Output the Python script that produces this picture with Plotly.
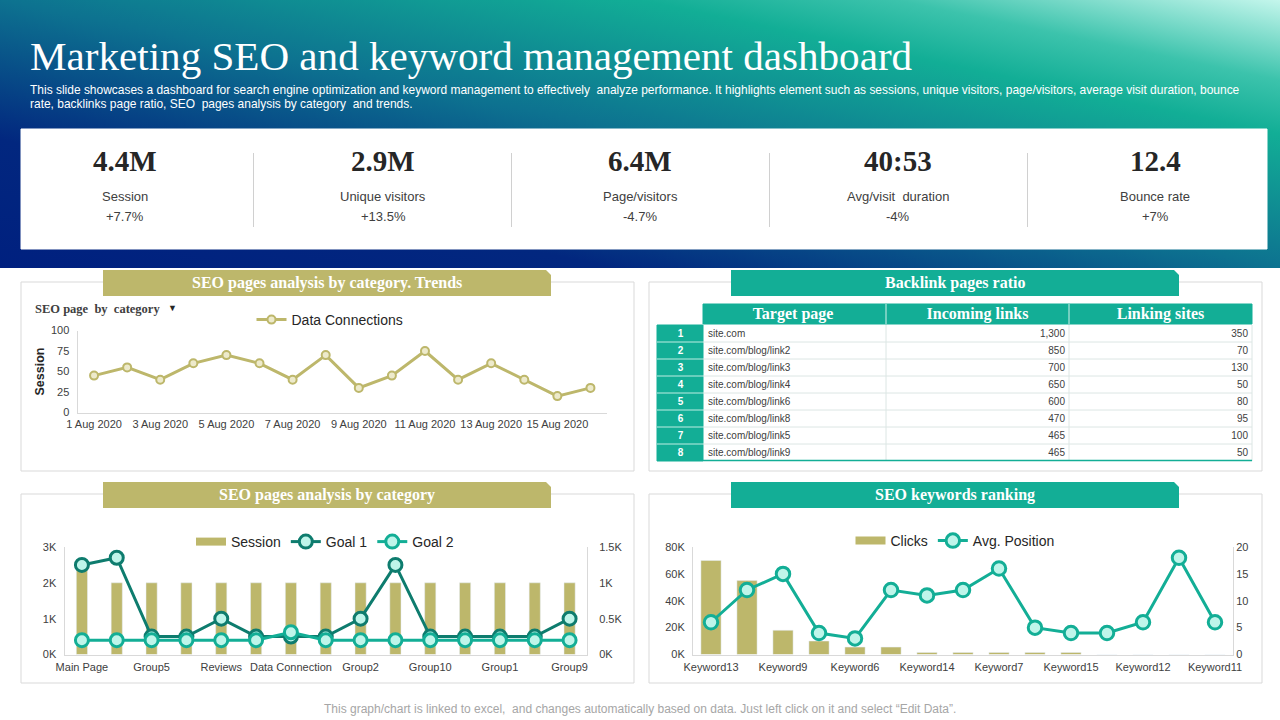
import base64
import plotly.graph_objects as go

# ---------- data ----------
kpi_values = ["4.4M", "2.9M", "6.4M", "40:53", "12.4"]
kpi_names = ["Session", "Unique visitors", "Page/visitors", "Avg/visit  duration", "Bounce rate"]
kpi_deltas = ["+7.7%", "+13.5%", "-4.7%", "-4%", "+7%"]

trend_dates = ["%d Aug 2020" % d for d in range(1, 17)]
trend_values = [45, 55, 40, 60, 70, 60, 40, 70, 30, 45, 75, 40, 60, 40, 20, 30]

page_cats = ["Main Page", "Group3", "Group5", "Group7", "Reviews", "Group8", "Data Connection", "Group4",
             "Group2", "Group6", "Group10", "Group11", "Group1", "Group12", "Group9"]
page_ticks = page_cats[::2]
page_session = [2500, 2000, 2000, 2000, 2000, 2000, 2000, 2000, 2000, 2000, 2000, 2000, 2000, 2000, 2000]
page_goal1 = [1250, 1350, 250, 250, 500, 250, 250, 250, 500, 1250, 250, 250, 250, 250, 500]
page_goal2 = [200, 200, 200, 200, 200, 200, 310, 200, 200, 200, 200, 200, 200, 200, 200]

kw_cats = ["Keyword13", "Keyword2", "Keyword9", "Keyword4", "Keyword6", "Keyword1", "Keyword14", "Keyword3",
           "Keyword7", "Keyword5", "Keyword15", "Keyword8", "Keyword12", "Keyword10", "Keyword11"]
kw_ticks = kw_cats[::2]
kw_clicks = [70000, 55000, 18000, 10000, 5500, 5500, 1500, 1500, 1500, 1500, 1500, 0, 0, 0, 0]
kw_position = [6, 12, 15, 4, 3, 12, 11, 12, 16, 5, 4, 4, 6, 18, 6]

tbl_rank = ["1", "2", "3", "4", "5", "6", "7", "8"]
tbl_pages = ["site.com", "site.com/blog/link2", "site.com/blog/link3", "site.com/blog/link4",
             "site.com/blog/link6", "site.com/blog/link8", "site.com/blog/link5", "site.com/blog/link9"]
tbl_links = ["1,300", "850", "700", "650", "600", "470", "465", "465"]
tbl_sites = ["350", "70", "130", "50", "80", "95", "100", "50"]
tbl_header = ["", "Target page", "Incoming links\u00a0", "Linking sites\u00a0\u00a0"]

# ---------- style ----------
OLIVE = "#BDB76B"
TEAL = "#13AE96"
DARK = "#0E7C6E"
PALE = "#BFF5EA"
PALE_OL = "#EDEACB"
SANS = "Liberation Sans"
SERIF = "Liberation Serif"
CLEAR = "rgba(0,0,0,0)"
W, H = 1280, 720


def fx(p):
    return p / W


def fy(p):
    return 1 - p / H


svg = ('<svg xmlns="http://www.w3.org/2000/svg" width="1280" height="268" preserveAspectRatio="none">'
       '<defs><linearGradient id="g" x1="0" y1="1" x2="1" y2="0">'
       '<stop offset="0" stop-color="#00207F"/><stop offset="0.24" stop-color="#02277F"/>'
       '<stop offset="0.5" stop-color="#0D7290"/><stop offset="0.75" stop-color="#12AE96"/>'
       '<stop offset="0.85" stop-color="#3CC3AC"/><stop offset="1" stop-color="#C4F6EC"/>'
       '</linearGradient></defs><rect width="1280" height="268" fill="url(#g)"/></svg>')
bg = "data:image/svg+xml;base64," + base64.b64encode(svg.encode()).decode()

shapes = []
annots = []


def rect(x0, y0, x1, y1, fill="white", line=None):
    shapes.append(dict(type="rect", xref="paper", yref="paper", x0=fx(x0), x1=fx(x1), y0=fy(y1), y1=fy(y0),
                       fillcolor=fill, line=dict(color=line or fill, width=1), layer="below"))


def hvline(x0, y0, x1, y1, color, width=1):
    shapes.append(dict(type="line", xref="paper", yref="paper", x0=fx(x0), x1=fx(x1), y0=fy(y1), y1=fy(y0),
                       line=dict(color=color, width=width), layer="below"))


def text(x, y, s, size, color, family=SANS, anchor="center"):
    annots.append(dict(xref="paper", yref="paper", x=fx(x), y=fy(y), text=s, showarrow=False, xanchor=anchor,
                       yanchor="middle", align=anchor, font=dict(size=size, color=color, family=family)))


def tab(x0, y0, x1, y1, fill, label):
    path = f"M{fx(x0)},{fy(y1)} L{fx(x0)},{fy(y0)} L{fx(x1 - 5)},{fy(y0)} L{fx(x1)},{fy(y0 + 5)} L{fx(x1)},{fy(y1)} Z"
    shapes.append(dict(type="path", xref="paper", yref="paper", path=path, fillcolor=fill, line=dict(width=0)))
    text((x0 + x1) / 2, (y0 + y1) / 2, "<b>%s</b>" % label, 16, "white", SERIF)


# header
text(28, 56, "Marketing SEO and keyword management dashboard", 41.1, "white", SERIF, "left")
text(28, 89.5, "This slide showcases a dashboard for search engine optimization and keyword management to effectively  "
     "analyze performance. It highlights element such as sessions, unique visitors, page/visitors, average visit "
     "duration, bounce", 11.97, "white", SANS, "left")
text(28, 103.5, "rate, backlinks page ratio, SEO  pages analysis by category  and trends.", 11.97, "white", SANS, "left")

# KPI band
rect(21, 129, 1267, 249)
for xd in (253.5, 511.5, 769.5, 1027.5):
    hvline(xd, 153, xd, 227, "#D0D0D0")
for xc, v, n, d in zip((125, 383, 640, 898, 1155), kpi_values, kpi_names, kpi_deltas):
    text(xc, 161, "<b>%s</b>" % v, 29, "#262626", SERIF)
    text(xc, 196.5, n, 13, "#404040")
    text(xc, 216.5, d, 13, "#404040")

# panels
for (x0, y0, x1, y1) in ((21, 282, 634, 471), (649, 282, 1262, 471), (21, 494, 634, 683), (649, 494, 1262, 683)):
    rect(x0, y0, x1, y1, "white", "#D9D9D9")
tab(103, 270, 551, 296, OLIVE, "SEO pages analysis by category. Trends")
tab(731, 270, 1179, 296, TEAL, "Backlink pages ratio")
tab(103, 482, 551, 508, OLIVE, "SEO pages analysis by category")
tab(731, 482, 1179, 508, TEAL, "SEO keywords ranking")

# table grid, drawn beneath the table's text
ROW_TOP, ROW_H = 325, 17
row_bottom = ROW_TOP + ROW_H * len(tbl_rank)
rect(703, 304, 1252, 324, TEAL)
rect(657, ROW_TOP, 703, row_bottom, TEAL)
for xl in (886, 1069):
    hvline(xl, 304, xl, 324, "#D5F0EA")
    hvline(xl, ROW_TOP, xl, row_bottom, "#DCE6E4")
hvline(1252, ROW_TOP, 1252, row_bottom, "#DCE6E4")
for i in range(1, len(tbl_rank)):
    yl = ROW_TOP + ROW_H * i
    hvline(657, yl, 703, yl, "#BFEDE3")
    hvline(703, yl, 1252, yl, "#DCE6E4")
hvline(703, row_bottom - 0.5, 1252, row_bottom - 0.5, TEAL, 1.5)

text(33, 309, "<b>SEO page  by  category</b>", 12.5, "#404040", SERIF, "left")
text(172, 308, "▼", 9, "#262626", SANS)
text(640, 709, "This graph/chart is linked to excel,  and changes automatically based on data. Just left click on it and "
     "select “Edit Data”.", 12, "#A6A6A6")

fig = go.Figure()

# chart 1: trend
fig.add_trace(go.Scatter(x=trend_dates, y=trend_values, mode="lines+markers", name="Data Connections",
                         line=dict(color=OLIVE, width=3),
                         marker=dict(size=8, color=PALE_OL, line=dict(color=OLIVE, width=2)),
                         xaxis="x", yaxis="y", legend="legend"))

# chart 2: sessions and goals
fig.add_trace(go.Bar(x=page_cats, y=page_session, name="Session", marker_color=OLIVE, width=0.32, xaxis="x2",
                     yaxis="y2", showlegend=False))
fig.add_trace(go.Scatter(x=[page_cats[0]], y=[None], mode="lines", name="Session", line=dict(color=OLIVE, width=8),
                         xaxis="x2", yaxis="y2", legend="legend2"))
fig.add_trace(go.Scatter(x=page_cats, y=page_goal1, mode="lines+markers", name="Goal 1",
                         line=dict(color=DARK, width=3),
                         marker=dict(size=13, color=PALE, line=dict(color=DARK, width=3)),
                         xaxis="x2", yaxis="y3", legend="legend2"))
fig.add_trace(go.Scatter(x=page_cats, y=page_goal2, mode="lines+markers", name="Goal 2",
                         line=dict(color=TEAL, width=3),
                         marker=dict(size=13, color=PALE, line=dict(color=TEAL, width=3)),
                         xaxis="x2", yaxis="y3", legend="legend2"))

# chart 3: keywords
fig.add_trace(go.Bar(x=kw_cats, y=kw_clicks, name="Clicks", marker_color=OLIVE, width=0.56, xaxis="x3", yaxis="y4",
                     showlegend=False))
fig.add_trace(go.Scatter(x=[kw_cats[0]], y=[None], mode="lines", name="Clicks", line=dict(color=OLIVE, width=8),
                         xaxis="x3", yaxis="y4", legend="legend3"))
fig.add_trace(go.Scatter(x=kw_cats, y=kw_position, mode="lines+markers", name="Avg. Position",
                         line=dict(color=TEAL, width=3),
                         marker=dict(size=13.5, color=PALE, line=dict(color=TEAL, width=3)),
                         xaxis="x3", yaxis="y5", legend="legend3"))

# table text (cell padding is fixed, so the trace sits slightly offset over its grid)
fig.add_trace(go.Table(
    domain=dict(x=[fx(661), fx(1256)], y=[fy(465), fy(299)]),
    columnwidth=[39, 186, 187, 183],
    header=dict(values=tbl_header, height=22, align="center", fill_color=CLEAR, line=dict(color=CLEAR, width=0),
                font=dict(family=SERIF, size=16, color="white", weight="bold")),
    cells=dict(values=[tbl_rank, tbl_pages, tbl_links, tbl_sites], height=ROW_H,
               align=["center", "left", "right", "right"],
               fill_color=CLEAR, line=dict(color=CLEAR, width=0),
               font=dict(family=SANS, size=10, color=["white", "#404040", "#404040", "#404040"],
                         weight=["bold", "normal", "normal", "normal"]))))

tickf = dict(size=11, color="#404040", family=SANS)
axline = dict(showline=True, linecolor="#D9D9D9", linewidth=1, showgrid=False, zeroline=False, ticks="")


def leg(xc, y):
    return dict(orientation="h", x=fx(xc), y=fy(y), xanchor="center", yanchor="middle",
                bgcolor=CLEAR, font=dict(size=14, color="#262626", family=SANS),
                itemclick=False, itemdoubleclick=False, traceorder="normal")


fig.update_layout(
    width=W, height=H, margin=dict(l=0, r=0, t=0, b=0, autoexpand=False), paper_bgcolor="white",
    plot_bgcolor=CLEAR,
    showlegend=True, barmode="overlay", shapes=shapes, annotations=annots, hovermode=False,
    images=[dict(source=bg, xref="paper", yref="paper", x=0, y=1, sizex=1, sizey=268 / H, sizing="stretch",
                 xanchor="left", yanchor="top", layer="below")],
    legend=leg(330, 320), legend2=leg(325, 542), legend3=leg(955, 541),
    xaxis=dict(domain=[fx(77.5), fx(607)], anchor="y", type="category", tickmode="array",
               categoryorder="array", categoryarray=trend_dates, range=[-0.5, 15.5], ticklabelstandoff=1,
               tickvals=trend_dates[::2], ticktext=trend_dates[::2], tickangle=0, tickfont=tickf, **axline),
    yaxis=dict(domain=[fy(412.5), fy(330.5)], anchor="x", range=[0, 100], tickvals=[0, 25, 50, 75, 100],
               ticklabelstandoff=5, tickfont=tickf,
               title=dict(text="<b>Session</b>", font=dict(size=12.5, color="#262626", family=SANS), standoff=3),
               **axline),
    xaxis2=dict(domain=[fx(64.5), fx(587)], anchor="y2", type="category", tickmode="array",
                categoryorder="array", categoryarray=page_cats, range=[-0.5, 14.5], ticklabelstandoff=2,
                tickvals=page_ticks, ticktext=page_ticks, tickangle=0, tickfont=tickf, **axline),
    yaxis2=dict(domain=[fy(654.5), fy(547)], anchor="x2", range=[0, 3000], tickvals=[0, 1000, 2000, 3000],
                ticklabelstandoff=5, ticktext=["0K", "1K", "2K", "3K"], tickfont=tickf, **axline),
    yaxis3=dict(domain=[fy(654.5), fy(547)], anchor="x2", overlaying="y2", side="right", range=[0, 1500],
                ticklabelstandoff=9, tickvals=[0, 500, 1000, 1500], ticktext=["0K", "0.5K", "1K", "1.5K"],
                tickfont=tickf, **axline),
    xaxis3=dict(domain=[fx(693), fx(1233)], anchor="y4", type="category", tickmode="array",
                categoryorder="array", categoryarray=kw_cats, range=[-0.5, 14.5], ticklabelstandoff=2,
                tickvals=kw_ticks, ticktext=kw_ticks, tickangle=0, tickfont=tickf, **axline),
    yaxis4=dict(domain=[fy(654.5), fy(547)], anchor="x3", range=[0, 80000], tickvals=[0, 20000, 40000, 60000, 80000],
                ticklabelstandoff=5, ticktext=["0K", "20K", "40K", "60K", "80K"], tickfont=tickf, **axline),
    yaxis5=dict(domain=[fy(654.5), fy(547)], anchor="x3", overlaying="y4", side="right", range=[0, 20],
                tickvals=[0, 5, 10, 15, 20], tickfont=tickf, **axline),
)

fig.write_html("out.html", config=dict(displayModeBar=False),
               post_script="document.body.style.margin='0';document.documentElement.style.overflow='hidden';")
